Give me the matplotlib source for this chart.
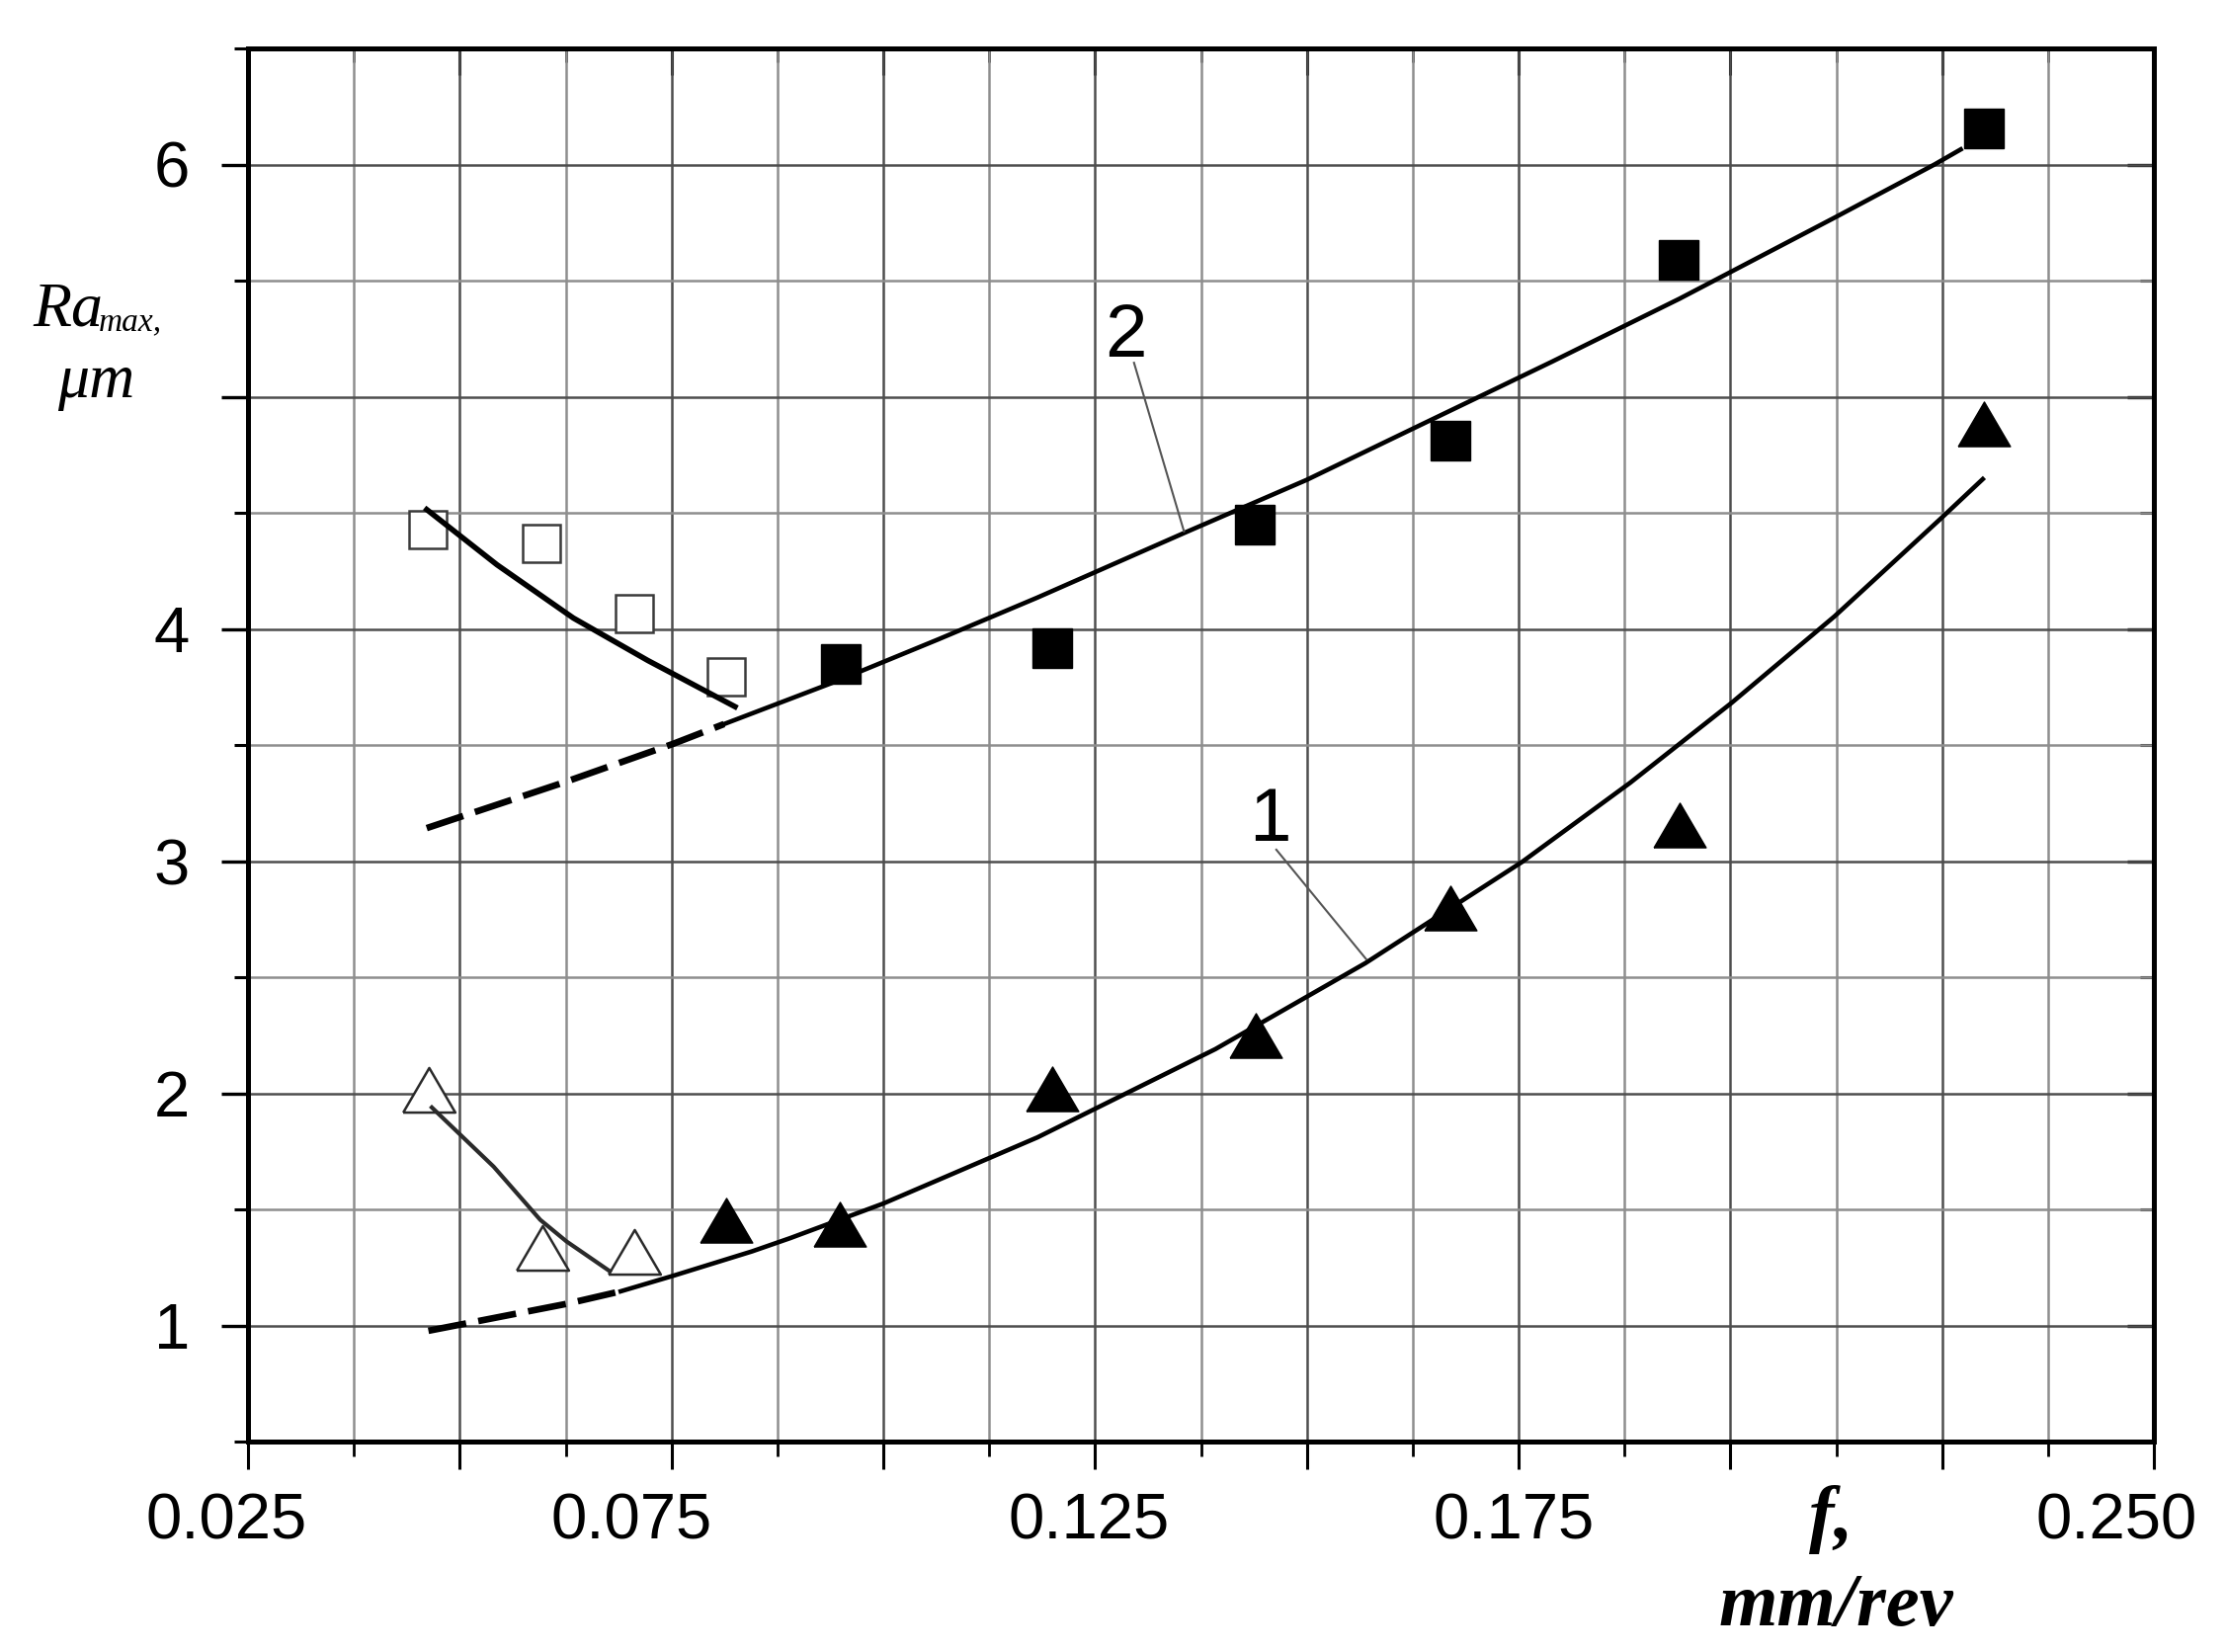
import numpy as np
import matplotlib
matplotlib.use("Agg")
import matplotlib.pyplot as plt
from matplotlib import font_manager
from matplotlib.ticker import MultipleLocator, NullFormatter, FixedLocator, FixedFormatter
from matplotlib.transforms import blended_transform_factory

# ---------------- data ----------------
# curve 2 (filled squares)
sq_fill_x = [0.0950, 0.1200, 0.1439, 0.1670, 0.1939, 0.2299]
sq_fill_y = [3.847, 3.915, 4.450, 4.811, 5.590, 6.157]
# open squares
sq_open_x = [0.0462, 0.0596, 0.0706, 0.0815]
sq_open_y = [4.429, 4.369, 4.068, 3.792]
# curve 1 (filled triangles)
tri_fill_x = [0.0815, 0.0949, 0.1200, 0.1440, 0.1670, 0.1940, 0.2299]
tri_fill_y = [1.452, 1.435, 2.020, 2.250, 2.800, 3.155, 4.883]
# open triangles
tri_open_x = [0.0464, 0.0598, 0.0706]
tri_open_y = [2.017, 1.333, 1.318]

# fitted curve 2
c2_dash_x = [0.0461, 0.0624, 0.0752, 0.0812]
c2_dash_y = [3.142, 3.340, 3.505, 3.590]
c2_x = [0.0812, 0.0945, 0.1065, 0.1182, 0.1357, 0.1500, 0.1625, 0.1789, 0.1940, 0.2123, 0.2241, 0.2272]
c2_y = [3.590, 3.775, 3.955, 4.135, 4.416, 4.642, 4.862, 5.150, 5.422, 5.771, 6.000, 6.065]
# curve through open squares
c2o_x = [0.0461, 0.0544, 0.0634, 0.0722, 0.0825]
c2o_y = [4.514, 4.276, 4.047, 3.864, 3.665]

# fitted curve 1
c1_dash_x = [0.0463, 0.0626, 0.0690]
c1_dash_y = [0.977, 1.093, 1.147]
c1_x = [0.0690, 0.0752, 0.0845, 0.0890, 0.1000, 0.1182, 0.1392, 0.1569, 0.1754, 0.1882,
        0.2001, 0.2123, 0.2249, 0.2298]
c1_y = [1.147, 1.214, 1.319, 1.376, 1.525, 1.810, 2.190, 2.560, 2.996, 3.338,
        3.680, 4.054, 4.477, 4.645]
# curve through open triangles
c1o_x = [0.0467, 0.0540, 0.0595, 0.0626, 0.0677]
c1o_y = [1.939, 1.684, 1.455, 1.362, 1.234]

xtick_labels = ["0.025", "0.075", "0.125", "0.175", "0.250"]
xtick_label_pos = [0.02243, 0.07026, 0.12422, 0.17448, 0.24557]
ytick_vals = [1, 2, 3, 4, 5, 6]
ytick_labels = ["1", "2", "3", "4", "", "6"]

# ---------------- fonts ----------------
def pick(fams):
    for f in fams:
        try:
            font_manager.findfont(f, fallback_to_default=False)
            return f
        except Exception:
            pass
    return "DejaVu Sans"

SANS = pick(["Liberation Sans", "Arial", "DejaVu Sans"])
NARROW = pick(["Liberation Sans Narrow", "Arial Narrow", "Liberation Sans"])
SERIF = pick(["Liberation Serif", "Times New Roman", "DejaVu Serif"])

plt.rcParams["lines.scale_dashes"] = False

W, H = 2252, 1672
fig = plt.figure(figsize=(W / 100, H / 100), dpi=100)
L, R, B, T = 251, 2180, 1459, 49
ax = fig.add_axes([L / W, 1 - B / H, (R - L) / W, (B - T) / H])
ax.set_xlim(0.025, 0.25)
ax.set_ylim(0.5, 6.5)

# grid
ax.set_axisbelow(True)
ax.xaxis.set_major_locator(MultipleLocator(0.025))
ax.xaxis.set_minor_locator(MultipleLocator(0.0125))
ax.yaxis.set_major_locator(FixedLocator(ytick_vals))
ax.yaxis.set_major_formatter(FixedFormatter(ytick_labels))
ax.yaxis.set_minor_locator(MultipleLocator(0.5))
ax.xaxis.set_major_formatter(NullFormatter())
ax.grid(which="major", color="#4e4e4e", lw=1.8)
ax.grid(which="minor", color="#8e8e8e", lw=1.8)

for s in ax.spines.values():
    s.set_linewidth(3.6)
    s.set_color("black")

ax.tick_params(axis="x", which="major", direction="out", length=20, width=2.2, top=False)
ax.tick_params(axis="x", which="minor", direction="out", length=11, width=2.0, top=False)
ax.tick_params(axis="y", which="major", direction="out", length=19.5, width=2.4, pad=23,
               labelsize=47, right=False)
ax.tick_params(axis="y", which="minor", direction="out", length=10, width=2.2, right=False)
for lab in ax.get_yticklabels():
    lab.set_family(SANS)

secx = ax.secondary_xaxis("top")
secx.xaxis.set_major_locator(MultipleLocator(0.025))
secx.xaxis.set_minor_locator(MultipleLocator(0.0125))
secx.xaxis.set_major_formatter(NullFormatter())
secx.tick_params(which="major", direction="in", length=19.5, width=2.2)
secx.tick_params(which="minor", direction="in", length=10, width=2.0)
secx.spines["top"].set_linewidth(3.6)

secy = ax.secondary_yaxis("right")
secy.yaxis.set_major_locator(FixedLocator(ytick_vals))
secy.yaxis.set_minor_locator(MultipleLocator(0.5))
secy.yaxis.set_major_formatter(NullFormatter())
secy.tick_params(which="major", direction="in", length=19.5, width=2.4)
secy.tick_params(which="minor", direction="in", length=10, width=2.2)
secy.spines["right"].set_linewidth(3.6)

# x tick labels as text
trans = blended_transform_factory(ax.transData, ax.transAxes)
for lab, xp in zip(xtick_labels, xtick_label_pos):
    ax.text(xp, -0.0365, lab, transform=trans, ha="center", va="top",
            fontsize=47, family=SANS, clip_on=False)

# curves
ax.plot(c2_dash_x, c2_dash_y, color="black", lw=4.8, dashes=(28, 9),
        dash_capstyle="butt", zorder=3)
ax.plot(c2_x, c2_y, color="black", lw=3.3, zorder=3, solid_joinstyle="round")
ax.plot(c2o_x, c2o_y, color="black", lw=4.0, zorder=3, solid_joinstyle="round")
ax.plot(c1_dash_x, c1_dash_y, color="black", lw=4.8, dashes=(28, 9),
        dash_capstyle="butt", zorder=3)
ax.plot(c1_x, c1_y, color="black", lw=3.3, zorder=3, solid_joinstyle="round")
ax.plot(c1o_x, c1o_y, color="#2a2a2a", lw=3.0, zorder=3, solid_joinstyle="round")

tri = [(-1, -0.855), (1, -0.855), (0, 0.855), (-1, -0.855)]

ax.plot(sq_open_x, sq_open_y, ls="none", marker="s", ms=28, mfc="white",
        mec="#3a3a3a", mew=1.8, zorder=2.5)
ax.plot(tri_open_x, tri_open_y, ls="none", marker=tri, ms=38, mfc="white",
        mec="#2a2a2a", mew=1.8, zorder=2.5)
ax.plot(sq_fill_x, sq_fill_y, ls="none", marker="s", ms=29, mfc="black",
        mec="black", mew=1, zorder=4)
ax.plot(tri_fill_x, tri_fill_y, ls="none", marker=tri, ms=38, mfc="black",
        mec="black", mew=1, zorder=4)

# curve labels with leader lines
ax.text(0.1286, 5.174, "2", fontsize=55, family=NARROW, ha="center", va="baseline", zorder=5)
ax.plot([0.1296, 0.1355], [5.146, 4.420], color="#555555", lw=1.5, zorder=3)
ax.text(0.1456, 3.087, "1", fontsize=55, family=NARROW, ha="center", va="baseline", zorder=5)
ax.plot([0.1464, 0.1570], [3.049, 2.578], color="#555555", lw=1.5, zorder=3)

# axis titles
fig.text(33 / W, 1 - 330 / H, "Ra", fontsize=46, family=SERIF, style="italic",
         ha="left", va="baseline")
fig.text(100 / W, 1 - 334 / H, "max,", fontsize=24, family=SERIF, style="italic",
         ha="left", va="baseline")
fig.text(97 / W, 1 - 402 / H, "\u03bcm", fontsize=46, family=SERIF, style="italic",
         ha="center", va="baseline")
fig.text(1853 / W, 1 - 1557 / H, "f,", fontsize=55, family=SERIF, style="italic",
         weight="bold", ha="center", va="baseline")
fig.text(1858 / W, 1 - 1645 / H, "mm/rev", fontsize=55, family=SERIF, style="italic",
         weight="bold", ha="center", va="baseline")

fig.savefig("out.png", dpi=100, facecolor="white")
